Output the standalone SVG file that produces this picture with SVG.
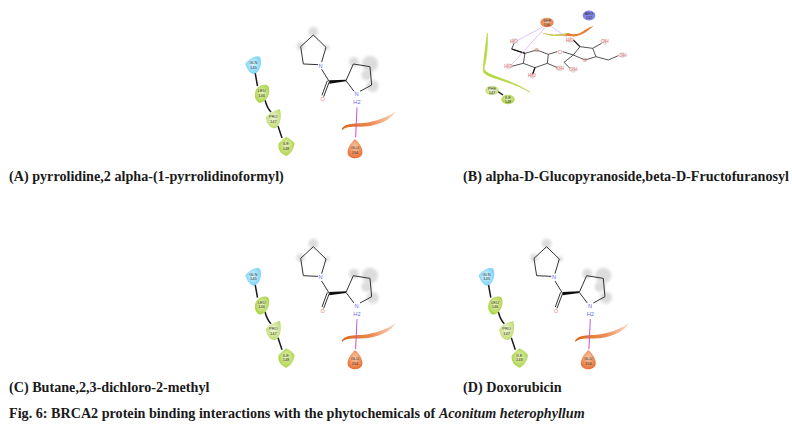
<svg xmlns="http://www.w3.org/2000/svg" width="792" height="433" viewBox="0 0 792 433">
<style>
.cap{font:bold 14.15px "Liberation Serif",serif;fill:#1a1a1a}
.it{font-style:italic}
.r{font:12px "Liberation Sans",sans-serif;fill:#333;text-anchor:middle}
.at{font:17px "Liberation Sans",sans-serif;text-anchor:middle}
.n{fill:#6a6af0}.o{fill:#f08080}
.b{fill:none;stroke:#333;stroke-width:3}
.h{fill:#dcdcdc;filter:url(#bl)}
.s{filter:url(#sf)}
</style>
<defs>
<filter id="bl" x="-60%" y="-60%" width="220%" height="220%"><feGaussianBlur stdDeviation="4"/></filter>
<filter id="sf" x="-10%" y="-10%" width="120%" height="120%"><feGaussianBlur stdDeviation="1"/></filter>
<radialGradient id="gq" cx=".5" cy=".45" r=".6"><stop offset="0" stop-color="#d8f3ff"/><stop offset="1" stop-color="#6fd0f5"/></radialGradient>
<radialGradient id="gl" cx=".5" cy=".45" r=".6"><stop offset="0" stop-color="#e6f2b8"/><stop offset="1" stop-color="#a5cf3a"/></radialGradient>
<radialGradient id="gp" cx=".5" cy=".45" r=".6"><stop offset="0" stop-color="#f0f6d8"/><stop offset="1" stop-color="#bcd968"/></radialGradient>
<radialGradient id="ge" cx=".5" cy=".4" r=".65"><stop offset="0" stop-color="#f8c8a4"/><stop offset="1" stop-color="#e8682a"/></radialGradient>
<linearGradient id="rib" x1="0" x2="1" y1="0" y2="0"><stop offset="0" stop-color="#d8691f"/><stop offset=".55" stop-color="#ee8a50"/><stop offset="1" stop-color="#fbdcc8"/></linearGradient>
<linearGradient id="lk" x1="0" x2="0" y1="0" y2="1"><stop offset="0" stop-color="#b060f0"/><stop offset="1" stop-color="#e040b0"/></linearGradient>
<g id="mol">
<circle class="h" cx="250" cy="36" r="15"/><circle class="h" cx="212" cy="78" r="12"/><circle class="h" cx="290" cy="82" r="8"/>
<circle class="h" cx="372" cy="126" r="15"/><circle class="h" cx="420" cy="132" r="24"/><circle class="h" cx="428" cy="198" r="18"/><circle class="h" cx="410" cy="165" r="16"/>
<g class="s">
<path class="b" d="M250 45L288 82L275 126M264 134L220 132L212 80L250 45"/>
<path class="b" d="M275 148L298 185M298 185L281 230M292 182L276 226"/>
<path d="M298 181L348 179V184L298 191Z" fill="#111"/>
<path class="b" d="M348 182L370 132L420 140L425 195L390 214M372 214L348 182"/>
<path d="M335 328C345 305 385 314 420 306C450 300 475 290 497 274C482 302 445 314 415 319C385 323 350 316 337 330Z" fill="url(#rib)"/>
<path d="M381 262L377 352" stroke="url(#lk)" stroke-width="3" fill="none"/>
</g>
</g>
<path id="dropq" d="M-24 -4C-12 -22 10 -30 20 -24C28 -6 20 24 0 27C-12 24 -20 10 -24 -4Z"/>
<path id="dropl" d="M-20 0C-16 -24 12 -30 20 -20C28 0 16 28 -6 30C-18 24 -22 12 -20 0Z"/>
<path id="dropp" d="M-22 -6C-10 -22 10 -28 20 -30C26 -8 22 14 8 26C-6 30 -20 18 -22 -6Z"/>
<path id="dropi" d="M-22 -8L0 -28C12 -22 20 -16 26 -8C24 8 14 26 0 30C-18 22 -26 8 -22 -8Z"/>
<path id="drope" d="M0 -33C16 -20 24 -2 22 10C18 30 -18 30 -22 10C-24 -4 -14 -20 0 -33Z"/>
</defs>
<rect width="792" height="433" fill="#fff"/>

<g id="connectors">
<g fill="none" stroke="#1a1a1a" stroke-width="1.5">
<path d="M255 72L257.500 86M265 100Q267 108 271 112M278 126L282 138"/>
<path d="M255 283.700L257.500 297.700M265 311.700Q267 319.700 271 323.700M278 337.700L282 349.700"/>
<path d="M488.300 283.700L490.800 297.700M498.300 311.700Q500.300 319.700 504.300 323.700M511.300 337.700L515.300 349.700"/>
<path d="M497 91L503 95"/>
</g>
</g>

<g id="panel-a" transform="translate(230 20) scale(.3333)">
<use href="#mol"/>
<text class="at n" x="272" y="143">N</text><text class="at n" x="380" y="228">N</text><text class="at n" x="381" y="252">H2</text><text class="at o" x="278" y="244">O</text>
</g>
<g id="gln-a" transform="translate(253.300 65) scale(.3333)"><use href="#dropq" fill="url(#gq)"/><text class="r" y="-3">GLN</text><text class="r" y="11">145</text></g>
<g id="leu-a" transform="translate(261.700 93) scale(.3333)"><use href="#dropl" fill="url(#gl)"/><text class="r" y="-3">LEU</text><text class="r" y="11">146</text></g>
<g id="pro-a" transform="translate(273.300 119.300) scale(.3333)"><use href="#dropp" fill="url(#gp)"/><text class="r" y="-3">PRO</text><text class="r" y="11">147</text></g>
<g id="ile-a" transform="translate(286 146) scale(.3333)"><use href="#dropi" fill="url(#gl)"/><text class="r" y="-3">ILE</text><text class="r" y="11">148</text></g>
<g id="glu-a" transform="translate(355 150) scale(.3333)"><use href="#drope" fill="url(#ge)"/><text class="r" y="-3">GLU</text><text class="r" y="11">154</text></g>

<g id="panel-c" transform="translate(230 231.700) scale(.3333)">
<use href="#mol"/>
<text class="at n" x="272" y="143">N</text><text class="at n" x="380" y="228">N</text><text class="at n" x="381" y="252">H2</text><text class="at o" x="278" y="244">O</text>
</g>
<g id="gln-c" transform="translate(253.300 276.700) scale(.3333)"><use href="#dropq" fill="url(#gq)"/><text class="r" y="-3">GLN</text><text class="r" y="11">145</text></g>
<g id="leu-c" transform="translate(261.700 304.700) scale(.3333)"><use href="#dropl" fill="url(#gl)"/><text class="r" y="-3">LEU</text><text class="r" y="11">146</text></g>
<g id="pro-c" transform="translate(273.300 331) scale(.3333)"><use href="#dropp" fill="url(#gp)"/><text class="r" y="-3">PRO</text><text class="r" y="11">147</text></g>
<g id="ile-c" transform="translate(286 357.700) scale(.3333)"><use href="#dropi" fill="url(#gl)"/><text class="r" y="-3">ILE</text><text class="r" y="11">148</text></g>
<g id="glu-c" transform="translate(355 361) scale(.3333)"><use href="#drope" fill="url(#ge)"/><text class="r" y="-3">GLU</text><text class="r" y="11">154</text></g>

<g id="panel-d" transform="translate(463.300 231.700) scale(.3333)">
<use href="#mol"/>
<text class="at n" x="272" y="143">N</text><text class="at n" x="380" y="228">N</text><text class="at n" x="381" y="252">H2</text><text class="at o" x="278" y="244">O</text>
</g>
<g id="gln-d" transform="translate(486.600 276.700) scale(.3333)"><use href="#dropq" fill="url(#gq)"/><text class="r" y="-3">GLN</text><text class="r" y="11">145</text></g>
<g id="leu-d" transform="translate(495 304.700) scale(.3333)"><use href="#dropl" fill="url(#gl)"/><text class="r" y="-3">LEU</text><text class="r" y="11">146</text></g>
<g id="pro-d" transform="translate(506.600 331) scale(.3333)"><use href="#dropp" fill="url(#gp)"/><text class="r" y="-3">PRO</text><text class="r" y="11">147</text></g>
<g id="ile-d" transform="translate(519.300 357.700) scale(.3333)"><use href="#dropi" fill="url(#gl)"/><text class="r" y="-3">ILE</text><text class="r" y="11">148</text></g>
<g id="glu-d" transform="translate(588.300 361) scale(.3333)"><use href="#drope" fill="url(#ge)"/><text class="r" y="-3">GLU</text><text class="r" y="11">154</text></g>

<g id="panel-b" transform="translate(470 5) scale(.3333)">
<g class="s">
<path d="M52 85C54 120 50 160 42 190C46 215 110 215 180 262C120 225 50 220 40 200C40 165 48 120 52 85Z" fill="#b5d840" stroke="#b5d840" stroke-width="2"/>
<path d="M212 82C240 92 270 90 295 84C310 92 330 88 345 75C355 68 365 64 372 62C350 80 330 96 305 94C280 90 240 96 212 82Z" fill="#e87a2e"/>
<path d="M212 82C240 92 265 92 290 84L292 88C260 96 235 94 212 82Z" fill="#b5d840"/>
<g fill="#e3e3e3"><circle cx="132" cy="108" r="9"/><circle cx="115" cy="184" r="9"/><circle cx="186" cy="212" r="9"/><circle cx="270" cy="190" r="9"/><circle cx="310" cy="194" r="9"/><circle cx="300" cy="105" r="9"/><circle cx="404" cy="110" r="9"/><circle cx="458" cy="150" r="9"/></g>
<path d="M125 132L165 145L200 135L235 148L232 175L195 188L160 175L165 145M235 148L262 140M278 140L310 150L330 125L368 130L378 155L345 165L310 150M132 115L125 132M160 175L125 184M195 188L188 205M232 175L262 188M310 150L282 172L300 190M368 130L395 115M378 155L415 165L445 152" fill="none" stroke="#333" stroke-width="2.500"/>
<path d="M125 132L165 145M195 188L188 208M310 105L330 125" stroke="#111" stroke-width="3.500" fill="none"/>
<path d="M220 65L140 108M225 68L122 182M245 65L292 98" stroke="#d8a0f0" stroke-width="2" fill="none"/>
</g>
<text class="at o" x="132" y="113">HO</text><text class="at o" x="115" y="189">HO</text><text class="at o" x="186" y="217">HO</text><text class="at o" x="270" y="195">OH</text><text class="at o" x="310" y="199">OH</text><text class="at o" x="300" y="110">HO</text><text class="at o" x="404" y="115">OH</text><text class="at o" x="458" y="155">OH</text><text class="at o" x="200" y="141">O</text><text class="at o" x="270" y="146">O</text><text class="at o" x="345" y="170">O</text>
</g>
<g id="res-b1" transform="translate(547 22.500) scale(.3333)"><ellipse rx="20" ry="14" fill="url(#ge)"/><text class="r" y="-2">SER</text><text class="r" y="10">156</text></g>
<g id="res-b2" transform="translate(589 15.500) scale(.3333)"><ellipse rx="19" ry="15" fill="#8585ee"/><text class="r" y="-2">ARG</text><text class="r" y="10">152</text></g>
<g id="res-b3" transform="translate(492 90.500) scale(.3333)"><ellipse rx="20" ry="14" fill="url(#gp)"/><text class="r" y="-2">PHE</text><text class="r" y="10">147</text></g>
<g id="res-b4" transform="translate(508 99.500) scale(.3333)"><ellipse rx="20" ry="14" fill="url(#gl)"/><text class="r" y="-2">ILE</text><text class="r" y="10">148</text></g>

<g id="captions">
<text class="cap" x="9" y="181">(A) pyrrolidine,2 alpha-(1-pyrrolidinoformyl)</text>
<text class="cap" x="463" y="181">(B) alpha-D-Glucopyranoside,beta-D-Fructofuranosyl</text>
<text class="cap" x="9" y="392">(C) Butane,2,3-dichloro-2-methyl</text>
<text class="cap" x="463" y="392">(D) Doxorubicin</text>
<text class="cap" x="9" y="418">Fig. 6: BRCA2 protein binding interactions with the phytochemicals of <tspan class="it">Aconitum heterophyllum</tspan></text>
</g>
</svg>
